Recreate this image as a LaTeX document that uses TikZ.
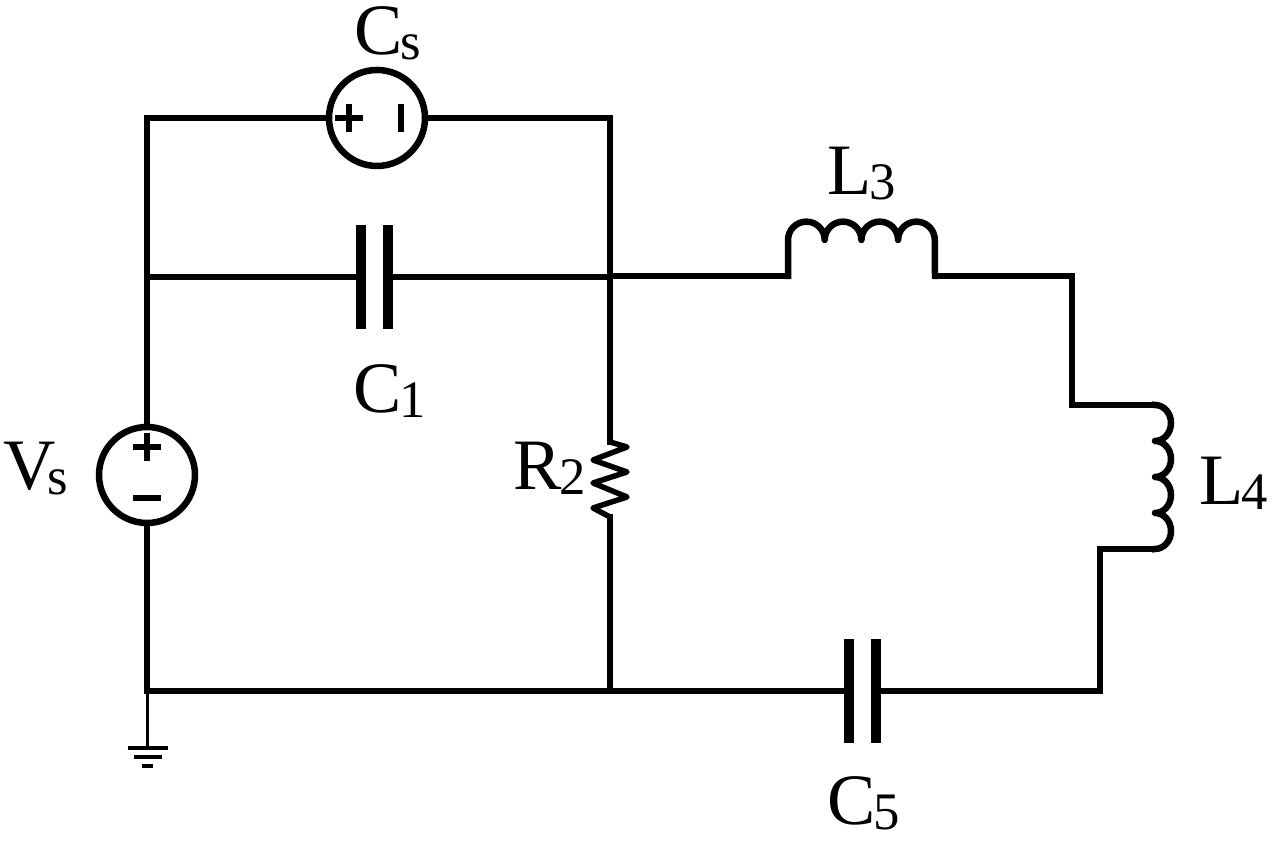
\documentclass[tikz,border=0pt]{standalone}
\usepackage{fontspec}
\setmainfont{Liberation Serif}
\newcommand{\lbl}[2]{\fontsize{20.6}{24}\selectfont #1\kern-0.02cm\raisebox{-0.05cm}{\fontsize{15}{18}\selectfont #2}}
\tikzset{
    wire/.style={line width=0.065cm, line cap=rect},
    source/.style={draw, circle, line width=0.065cm, minimum size=0.96cm, inner sep=0pt},
    plate/.style={fill=black, minimum width=0.1cm, minimum height=1.04cm, inner sep=0pt},
    tag/.style={anchor=base, inner sep=0pt}
}
\begin{document}
\begin{tikzpicture}
    \useasboundingbox (0,0) rectangle (12.76,8.41);
    \coordinate (topl) at (1.47,7.23);
    \coordinate (topr) at (6.10,7.23);
    \coordinate (midl) at (1.47,5.64);
    \coordinate (midr) at (6.10,5.65);
    \coordinate (botl) at (1.47,1.50);
    \coordinate (botr) at (6.10,1.50);
    \coordinate (R2a) at (6.10,3.99);
    \coordinate (R2b) at (6.10,3.24);
    \coordinate (L3a) at (7.88,5.65);
    \coordinate (L3b) at (9.35,5.65);
    \coordinate (L4a) at (11.55,4.36);
    \coordinate (L4b) at (11.55,2.92);
    \coordinate (turna) at (10.72,5.65);
    \coordinate (turnb) at (10.72,4.36);
    \coordinate (turnc) at (11.00,2.92);
    \coordinate (turnd) at (11.00,1.50);
    \coordinate (gnd) at (1.475,0.93);

    \node[source] (Cs) at (3.77,7.23) {};
    \node[source] (Vs) at (1.47,3.66) {};
    \node[plate] (C1a) at (3.61,5.64) {};
    \node[plate] (C1b) at (3.88,5.64) {};
    \node[plate] (C5a) at (8.49,1.50) {};
    \node[plate] (C5b) at (8.76,1.50) {};

    \draw[wire] (botl) -- (Vs.south);
    \draw[wire] (Vs.north) -- (topl) -- (Cs.west);
    \draw[wire] (Cs.east) -- (topr) -- (R2a);
    \draw[wire] (R2b) -- (botr);
    \draw[wire] (midl) -- (C1a);
    \draw[wire] (C1b) -- (6.10,5.64);
    \draw[wire] (midr) -- (L3a);
    \draw[wire] (L3b) -- (turna) -- (turnb) -- (L4a);
    \draw[wire] (L4b) -- (turnc) -- (turnd) -- (C5b);
    \draw[wire] (C5a) -- (botl);

    \draw[line width=0.055cm, line join=round] (R2a) -- (6.27,3.94) -- (5.93,3.81) -- (6.27,3.69)
        -- (5.93,3.58) -- (6.27,3.44) -- (5.93,3.33) -- (R2b);

    \draw[wire, line join=round] (L3a) -- ++(0,0.36) \foreach \i in {1,2,3,4} {
        arc[start angle=180, end angle=0, radius=0.1835]
    } -- (L3b);
    \draw[wire, line join=round] (L4a) \foreach \i in {1,2,3,4} {
        arc[start angle=90, end angle=-90, x radius=0.16, y radius=0.18]
    };

    \draw[line width=0.06cm] (Cs.center) ++(-0.42,0) -- ++(0.28,0);
    \draw[line width=0.06cm] (Cs.center) ++(-0.28,0.14) -- ++(0,-0.28);
    \draw[line width=0.065cm] (Cs.center) ++(0.24,0.14) -- ++(0,-0.28);
    \draw[line width=0.06cm] (Vs.center) ++(-0.14,0.28) -- ++(0.28,0);
    \draw[line width=0.06cm] (Vs.center) ++(0,0.14) -- ++(0,0.28);
    \draw[line width=0.065cm] (Vs.center) ++(-0.14,-0.23) -- ++(0.28,0);

    \draw[line width=0.025cm] (botl) ++(0.005,0) -- (gnd);
    \draw[line width=0.04cm] (gnd) ++(-0.2,0) -- ++(0.4,0);
    \draw[line width=0.04cm] (gnd) ++(-0.14,-0.09) -- ++(0.28,0);
    \draw[line width=0.04cm] (gnd) ++(-0.055,-0.18) -- ++(0.11,0);

    \node[tag] (Cslabel) at (3.88,7.86) {\lbl{C}{s}};
    \node[tag] (L3label) at (8.62,6.46) {\lbl{L}{3}};
    \node[tag] (C1label) at (3.90,4.28) {\lbl{C}{1}};
    \node[tag] (R2label) at (5.50,3.51) {\lbl{R}{2}};
    \node[tag] (Vslabel) at (0.36,3.51) {\lbl{V}{\kern-0.06cm s}};
    \node[tag] (L4label) at (12.34,3.36) {\lbl{L}{4}};
    \node[tag] (C5label) at (8.64,0.16) {\lbl{C}{5}};
\end{tikzpicture}
\end{document}
